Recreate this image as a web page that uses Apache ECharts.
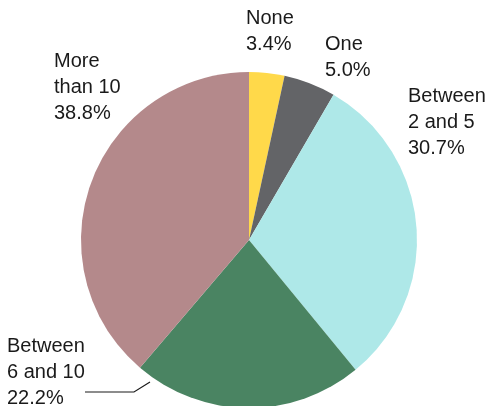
<!DOCTYPE html>
<html><head><meta charset="utf-8">
<script src="https://cdn.jsdelivr.net/npm/echarts@6/dist/echarts.min.js"></script>
<style>html,body{margin:0;padding:0;background:#fff}#c{width:488px;height:406px}</style>
</head><body><div id="c"></div>
<script>
const categories = ['None', 'One', 'Between 2 and 5', 'Between 6 and 10', 'More than 10'];
const displayNames = ['None', 'One', 'Between\n2 and 5', 'Between\n6 and 10', 'More\nthan 10'];
const values = [3.4, 5.0, 30.7, 22.2, 38.8];
const colors = ['#FFD94A', '#636467', '#AEE8E8', '#4A8462', '#B4898B'];

const labelPos = [
  {x: 246, y: 5},
  {x: 325, y: 31},
  {x: 408, y: 83},
  {x: 7, y: 333},
  {x: 54, y: 48}
];

const chart = echarts.init(document.getElementById('c'), null, {renderer: 'canvas'});
chart.setOption({
  animation: false,
  series: [{
    type: 'pie',
    center: [249, 240],
    radius: 168,
    startAngle: 90,
    clockwise: true,
    itemStyle: {borderWidth: 0},
    label: {
      show: true,
      position: 'outside',
      overflow: 'none',
      width: 200,
      fontFamily: 'Liberation Sans',
      fontSize: 20,
      lineHeight: 26,
      color: '#1a1a1a',
      formatter: p => displayNames[p.dataIndex] + '\n' + p.value.toFixed(1) + '%'
    },
    labelLine: {show: false},
    labelLayout: function (params) {
      const i = params.dataIndex;
      const r = {x: labelPos[i].x, y: labelPos[i].y, align: 'left', verticalAlign: 'top', width: 200};
      if (i === 3) {
        r.labelLinePoints = [[150, 382], [134, 392], [85, 392]];
      }
      return r;
    },
    data: categories.map((c, i) => ({
      name: c,
      value: values[i],
      itemStyle: {color: colors[i]},
      labelLine: i === 3 ? {show: true, lineStyle: {color: '#1a1a1a', width: 1.2}} : {show: false}
    }))
  }]
});
</script></body></html>
